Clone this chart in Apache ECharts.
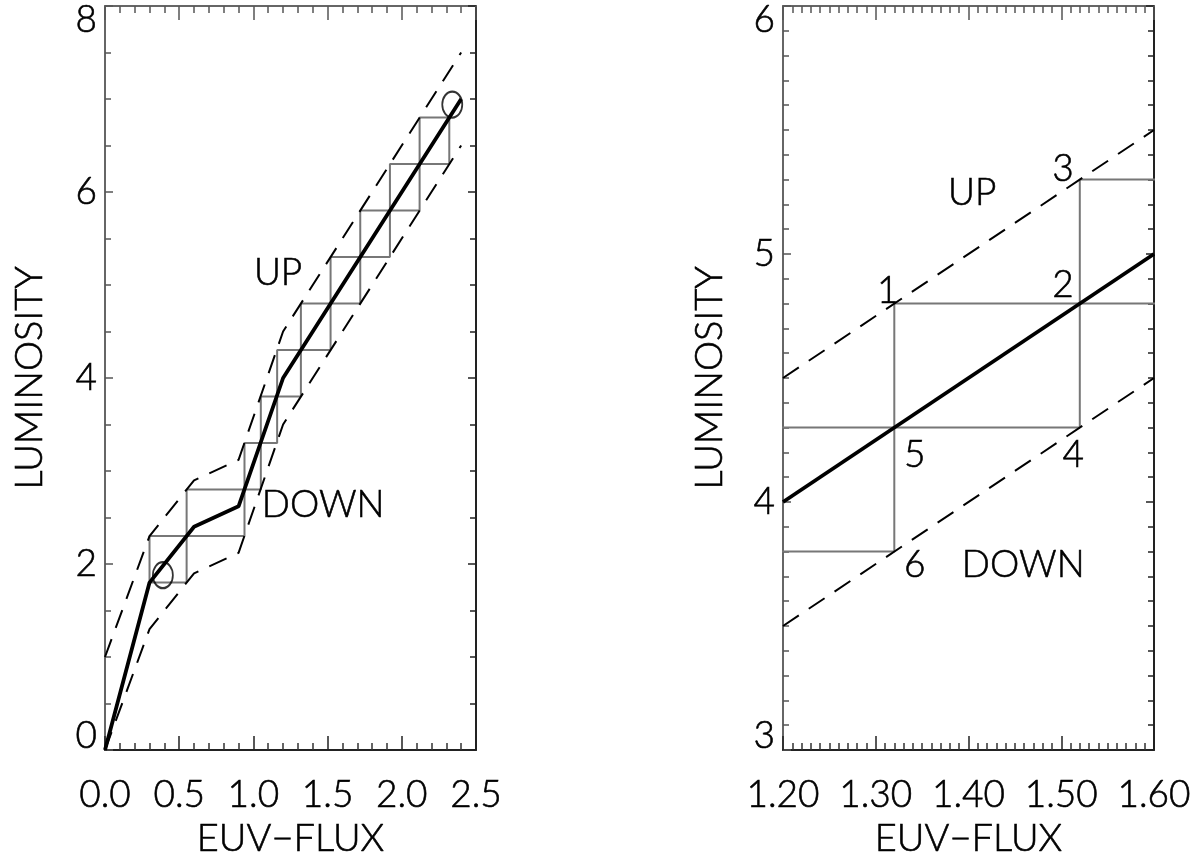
<!DOCTYPE html>
<html>
<head>
<meta charset="utf-8">
<script src="https://cdn.jsdelivr.net/npm/echarts@6/dist/echarts.min.js"></script>
<style>
html,body{margin:0;padding:0;background:#fff;}
#c{width:1200px;height:863px;}
</style>
</head>
<body>
<div id="c"></div>
<script>
// ---------- data ----------
// left panel
const leftMain  = [[0,0],[0.3,1.8],[0.6,2.4],[0.9,2.62],[1.2,4.0],[2.4,7.0]];
const leftUpper = [[0,1.0],[0.3,2.3],[0.6,2.9],[0.9,3.12],[1.2,4.5],[2.4,7.5]];
const leftLower = [[0,0],[0.3,1.3],[0.6,1.9],[0.9,2.12],[1.2,3.5],[2.4,6.5]];
const leftStairX = [0.30,0.55,0.94,1.05,1.16,1.32,1.52,1.72,1.92,2.12,2.32];
const leftStairY = [1.8,2.3,2.8,3.3,3.8,4.3,4.8,5.3,5.8,6.3,6.8];
const leftCircles = [[0.39,1.88],[2.34,6.94]];
const leftNotes = [['UP',1.166,5.13],['DOWN',1.47,2.63]];
// right panel
const rightMain  = [[1.2,4.0],[1.6,5.0]];
const rightUpper = [[1.2,4.5],[1.6,5.5]];
const rightLower = [[1.2,3.5],[1.6,4.5]];
const rightStairX = [1.12,1.32,1.52,1.72];
const rightStairY = [3.8,4.3,4.8,5.3];
const rightNotes = [['1',1.313,4.851],['2',1.502,4.875],['3',1.502,5.343],['UP',1.404,5.246],
                    ['5',1.342,4.19],['4',1.513,4.19],['6',1.342,3.746],['DOWN',1.459,3.746]];
// axes
const leftX = {min:0, max:2.5, interval:0.5, minor:5, digits:1};
const leftY = {min:0, max:8, interval:2, minor:4};
const rightX = {min:1.2, max:1.6, interval:0.1, minor:10, digits:2};
const rightY = {min:3, max:6, interval:1, minor:10};
const xTitle = 'EUV\u2212FLUX';
const yTitle = 'LUMINOSITY';

// ---------- helpers ----------
function stairPath(xs, ys){
  const pts = [];
  const n = xs.length;
  pts.push([xs[0], ys[0]]);
  for (let k = 0; k < n-1; k++){
    pts.push([xs[k], ys[k+1]]);
    pts.push([xs[k+1], ys[k+1]]);
  }
  for (let k = n-1; k > 0; k--){
    pts.push([xs[k], ys[k-1]]);
    pts.push([xs[k-1], ys[k-1]]);
  }
  return pts;
}
const FONT = 'Lato, "Open Sans", "DejaVu Sans", sans-serif';
const FW = 300;
const TXT = '#000';
const TB = {textBorderColor:'#000', textBorderWidth:0.6};

function xAxes(cfg, gridIndex){
  const base = {
    type:'value', gridIndex, min:cfg.min, max:cfg.max, interval:cfg.interval,
    splitLine:{show:false}, minorSplitLine:{show:false},
    axisTick:{show:true, inside:true, length:14, lineStyle:{color:'#222', width:1.5}},
    minorTick:{show:true, splitNumber:cfg.minor, length:7, lineStyle:{color:'#333', width:1.5}},
  };
  return [
    Object.assign({}, base, {
      position:'bottom',
      axisLine:{show:true, onZero:false, lineStyle:{color:'#222', width:2}},
      axisLabel:Object.assign({show:true, margin:27, fontSize:37, fontFamily:FONT, fontWeight:FW, color:TXT,
        formatter:v=>v.toFixed(cfg.digits), showMinLabel:true, showMaxLabel:true}, TB),
      name:xTitle, nameLocation:'middle', nameGap:63,
      nameTextStyle:Object.assign({fontSize:38, fontFamily:FONT, fontWeight:FW, color:TXT}, TB)
    }),
    Object.assign({}, base, {
      position:'top',
      axisLine:{show:true, onZero:false, lineStyle:{color:'#666', width:2}},
      axisTick:{show:true, inside:true, length:14, lineStyle:{color:'#555', width:1.5}},
      minorTick:{show:true, splitNumber:cfg.minor, length:7, lineStyle:{color:'#555', width:1.5}},
      axisLabel:{show:false}
    })
  ];
}
function yAxes(cfg, gridIndex, gap){
  const base = {
    type:'value', gridIndex, min:cfg.min, max:cfg.max, interval:cfg.interval,
    splitLine:{show:false}, minorSplitLine:{show:false},
  };
  return [
    Object.assign({}, base, {
      position:'left',
      axisLine:{show:true, onZero:false, lineStyle:{color:'#666', width:2}},
      axisTick:{show:true, inside:true, length:8, lineStyle:{color:'#555', width:1.5}},
      minorTick:{show:true, splitNumber:cfg.minor, length:6, lineStyle:{color:'#555', width:1.5}},
      axisLabel:Object.assign({show:true, margin:8, fontSize:37, fontFamily:FONT, fontWeight:FW, color:TXT,
        lineHeight:28, showMinLabel:true, showMaxLabel:true,
        verticalAlignMinLabel:'bottom', verticalAlignMaxLabel:'top'}, TB),
      name:yTitle, nameLocation:'middle', nameGap:gap, nameRotate:90,
      nameTextStyle:Object.assign({fontSize:38, fontFamily:FONT, fontWeight:FW, color:TXT}, TB)
    }),
    Object.assign({}, base, {
      position:'right',
      axisLine:{show:true, onZero:false, lineStyle:{color:'#222', width:2}},
      axisTick:{show:true, inside:true, length:8, lineStyle:{color:'#222', width:1.5}},
      minorTick:{show:true, splitNumber:cfg.minor, length:6, lineStyle:{color:'#222', width:1.5}},
      axisLabel:{show:false}
    })
  ];
}
function lineSeries(data, xi, yi, style){
  return {type:'line', xAxisIndex:xi, yAxisIndex:yi, data, symbol:'none', silent:true,
          clip:true, lineStyle:style, z:style.z||2};
}
function notesSeries(notes, xi, yi){
  return {type:'scatter', xAxisIndex:xi, yAxisIndex:yi, symbolSize:0, silent:true, z:5,
    data: notes.map(n=>({name:n[0], value:[n[1], n[2]]})),
    label:Object.assign({show:true, position:'inside', formatter:p=>p.name, fontSize:37,
      fontFamily:FONT, fontWeight:FW, color:TXT, opacity:1}, TB)};
}

const DASH = [19,12];
const option = {
  animation:false,
  backgroundColor:'#fff',
  grid:[
    {left:105, top:6, width:371, height:744},
    {left:783, top:6, width:371, height:744}
  ],
  xAxis:[...xAxes(leftX,0), ...xAxes(rightX,1)],
  yAxis:[...yAxes(leftY,0,56), ...yAxes(rightY,1,54)],
  series:[
    lineSeries(stairPath(leftStairX,leftStairY),0,0,{color:'#777',width:2,z:1}),
    lineSeries(leftUpper,0,0,{color:'#000',width:2,type:DASH}),
    lineSeries(leftLower,0,0,{color:'#000',width:2,type:DASH}),
    lineSeries(leftMain,0,0,{color:'#000',width:3.8,z:3}),
    {type:'scatter', xAxisIndex:0, yAxisIndex:0, data:leftCircles, symbol:'circle',
     symbolSize:[20,26], silent:true, z:4,
     itemStyle:{color:'rgba(0,0,0,0)', borderColor:'#000', borderWidth:2}},
    notesSeries(leftNotes,0,0),

    lineSeries(stairPath(rightStairX,rightStairY),2,2,{color:'#777',width:2,z:1}),
    lineSeries(rightUpper,2,2,{color:'#000',width:2,type:DASH}),
    lineSeries(rightLower,2,2,{color:'#000',width:2,type:DASH}),
    lineSeries(rightMain,2,2,{color:'#000',width:3.8,z:3}),
    notesSeries(rightNotes,2,2)
  ]
};
const chart = echarts.init(document.getElementById('c'), null, {renderer:'canvas'});
chart.setOption(option);
</script>
</body>
</html>
